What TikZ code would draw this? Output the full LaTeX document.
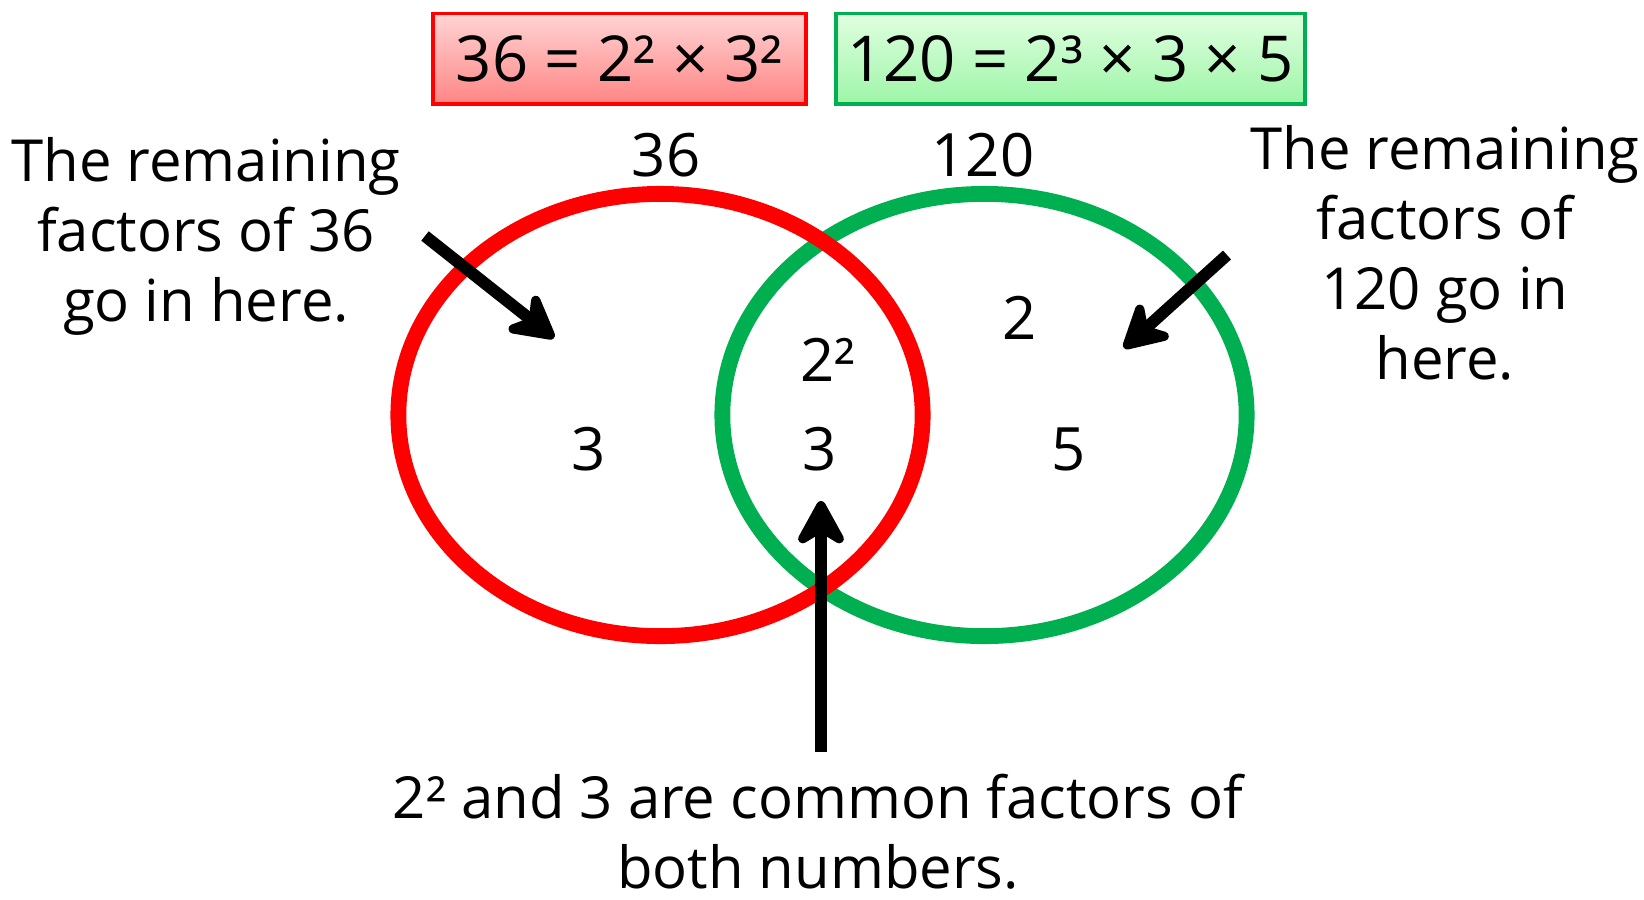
\documentclass[tikz,border=0pt]{standalone}
\usepackage{fontspec}
\setmainfont{Open Sans}
\usepackage{xcolor}
\usetikzlibrary{arrows.meta, positioning, shapes.geometric}
\definecolor{ringred}{HTML}{FF0000}
\definecolor{ringgreen}{HTML}{00B050}
\definecolor{pinktop}{HTML}{FFD4D4}
\definecolor{pinkbot}{HTML}{FF8585}
\definecolor{minttop}{HTML}{E0FFE0}
\definecolor{mintbot}{HTML}{9EF5A8}
\tikzset{
  txt/.style={font=\fontsize{16.5}{19.9}\selectfont, text=black, align=center, inner sep=0pt},
  num/.style={font=\fontsize{17}{20}\selectfont, text=black, inner sep=0pt},
  eqbox/.style={top color=#1top, bottom color=#1bot, draw=ring#1, line width=1pt,
                font=\fontsize{18}{22}\selectfont, inner sep=0pt, anchor=north west},
  ring/.style={ellipse, draw=#1, line width=4.5pt, minimum width=5.24cm, minimum height=4.42cm},
  pointer/.style={-{Stealth[length=5.5mm, width=6mm, inset=1.8mm, round]}, line width=3.4pt},
}
\colorlet{redtop}{pinktop}\colorlet{redbot}{pinkbot}
\colorlet{greentop}{minttop}\colorlet{greenbot}{mintbot}
\begin{document}
\begin{tikzpicture}[x=0.01cm, y=-0.01cm]
  \useasboundingbox (0,0) rectangle (1644,899);
  \node[eqbox=red, minimum width=3.73cm, minimum height=0.905cm] (boxa) at (431,11.5) {36 = 2² × 3²};
  \node[eqbox=green, minimum width=4.69cm, minimum height=0.905cm] (boxb) at (834,11.5) {120 = 2³ × 3 × 5};
  \node[ring=ringgreen] (setb) at (984.5,415) {};
  \node[ring=ringred] (seta) at (660.5,415) {};
  \node[num] (namea) at (666,155) {36};
  \node[num] (nameb) at (983,155) {120};
  \node[num] (onlya) at (589,449) {3};
  \node[num] (botha) at (828,360) {2²};
  \node[num] (bothb) at (820,449) {3};
  \node[num] (onlyb) at (1020,318) {2};
  \node[num] (onlyc) at (1069,449) {5};
  \node[txt] (notea) at (206,236) {The remaining\\factors of 36\\go in here.};
  \node[txt] (noteb) at (1445,253) {The remaining\\factors of\\120 go in\\here.};
  \node[txt] (notec) at (818,832) {2² and 3 are common factors of\\both numbers.};
  \coordinate (aa) at (425,236);
  \coordinate (ab) at (554,338);
  \coordinate (ba) at (1227,255);
  \coordinate (bb) at (1124,348);
  \coordinate (ca) at (821,752);
  \coordinate (cb) at (821,501);
  \draw[pointer] (aa) -- (ab);
  \draw[pointer] (ba) -- (bb);
  \draw[pointer] (ca) -- (cb);
\end{tikzpicture}
\end{document}
